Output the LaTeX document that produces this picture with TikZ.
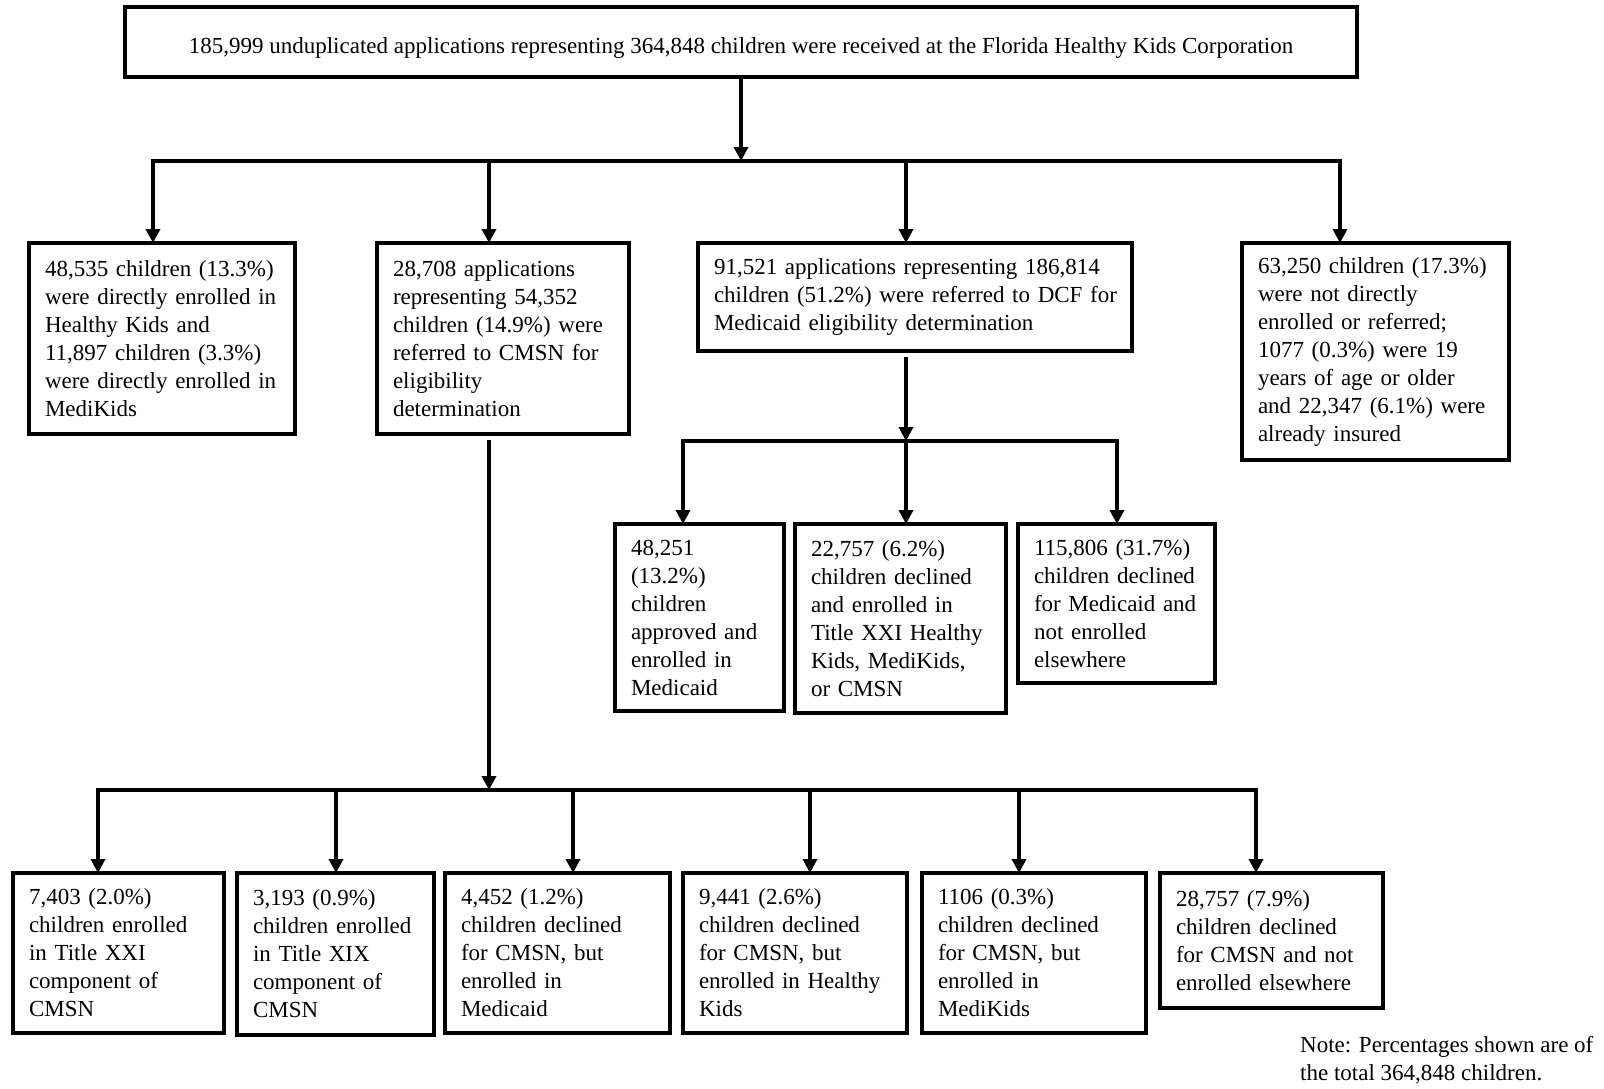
\documentclass[tikz,border=0pt]{standalone}
\usepackage{fontspec}
\setmainfont{Liberation Serif}
\usetikzlibrary{arrows.meta}
\begin{document}
\begin{tikzpicture}[x=1pt,y=-1pt,
  boxstyle/.style={draw, line width=4.5pt, inner xsep=16pt, inner ysep=0pt, outer sep=0pt,
    anchor=north west, align=left, font=\fontsize{23}{28}\selectfont},
  conn/.style={line width=4pt, line join=miter},
  arr/.style={conn, -{Triangle[length=14pt,width=14pt]}},
  notestyle/.style={font=\fontsize{23}{28}\selectfont, align=left, anchor=north west, inner sep=0pt}
]
\useasboundingbox (0,0) rectangle (1604,1088);
\fill[white] (0,0) rectangle (1604,1088);

% top
\node[boxstyle, align=center, inner xsep=0pt, text height=28pt, text depth=5pt,
  minimum width=1232pt, minimum height=70pt] (top) at (125,7)
  {185,999 unduplicated applications representing 364,848 children were received at the Florida Healthy Kids Corporation};

% row 2
\node[boxstyle, text width=234pt, minimum height=191pt] (b1) at (29,243)
  {48,535 children (13.3\%)\\were directly enrolled in\\Healthy Kids and\\11,897 children (3.3\%)\\were directly enrolled in\\MediKids};
\node[boxstyle, text width=220pt, minimum height=191pt] (b2) at (377,243)
  {28,708 applications\\representing 54,352\\children (14.9\%) were\\referred to CMSN for\\eligibility\\determination};
\node[boxstyle, text width=402pt, minimum height=108pt] (b3) at (698,243)
  {\mbox{91,521 applications representing 186,814}\\\mbox{children (51.2\%) were referred to DCF for}\\\mbox{Medicaid eligibility determination}};
\node[boxstyle, text width=235pt, minimum height=217pt] (b4) at (1242,243)
  {63,250 children (17.3\%)\\were not directly\\enrolled or referred;\\1077 (0.3\%) were 19\\years of age or older\\and 22,347 (6.1\%) were\\already insured};

% row 3
\node[boxstyle, text width=137pt, minimum height=187pt] (c1) at (615,524)
  {48,251\\(13.2\%)\\children\\approved and\\enrolled in\\Medicaid};
\node[boxstyle, text width=179pt, minimum height=189pt] (c2) at (795,524)
  {22,757 (6.2\%)\\children declined\\and enrolled in\\Title XXI Healthy\\Kids, MediKids,\\or CMSN};
\node[boxstyle, text width=165pt, minimum height=159pt] (c3) at (1018,524)
  {115,806 (31.7\%)\\children declined\\for Medicaid and\\not enrolled\\elsewhere};

% row 4
\node[boxstyle, text width=179pt, minimum height=160pt] (d1) at (13,873)
  {7,403 (2.0\%)\\children enrolled\\in Title XXI\\component of\\CMSN};
\node[boxstyle, text width=165pt, minimum height=162pt] (d2) at (237,873)
  {3,193 (0.9\%)\\children enrolled\\in Title XIX\\component of\\CMSN};
\node[boxstyle, text width=193pt, minimum height=160pt] (d3) at (445,873)
  {4,452 (1.2\%)\\children declined\\for CMSN, but\\enrolled in\\Medicaid};
\node[boxstyle, text width=192pt, minimum height=160pt] (d4) at (683,873)
  {9,441 (2.6\%)\\children declined\\for CMSN, but\\enrolled in Healthy\\Kids};
\node[boxstyle, text width=192pt, minimum height=160pt] (d5) at (922,873)
  {1106 (0.3\%)\\children declined\\for CMSN, but\\enrolled in\\MediKids};
\node[boxstyle, text width=191pt, minimum height=135pt] (d6) at (1160,873)
  {28,757 (7.9\%)\\children declined\\for CMSN and not\\enrolled elsewhere};

\node[notestyle] (note) at (1300,1036) {Note: Percentages shown are of\\the total 364,848 children.};

% junctions and branch points
\coordinate (j1) at (741,161);
\coordinate (p1) at (153,161);
\coordinate (p2) at (489,161);
\coordinate (p3) at (906,161);
\coordinate (p4) at (1340,161);

\coordinate (j2) at (906,441);
\coordinate (q1) at (683,441);
\coordinate (q2) at (906,441);
\coordinate (q3) at (1117,441);

\coordinate (j3) at (489,790);
\coordinate (r1) at (98,790);
\coordinate (r2) at (336,790);
\coordinate (r3) at (573,790);
\coordinate (r4) at (810,790);
\coordinate (r5) at (1019,790);
\coordinate (r6) at (1256,790);

% connectors
\draw[arr] (top.south -| j1) -- (j1);
\draw[arr] (j1) -| (p1 |- b1.north);
\draw[arr] (j1) -| (p2 |- b2.north);
\draw[arr] (j1) -| (p3 |- b3.north);
\draw[arr] (j1) -| (p4 |- b4.north);

\draw[arr, shorten <=6pt] (b3.south -| j2) -- (j2);
\draw[arr] (j2) -| (q1 |- c1.north);
\draw[arr] (j2) -| (q2 |- c2.north);
\draw[arr] (j2) -| (q3 |- c3.north);

\draw[arr, shorten <=6pt] (b2.south -| j3) -- (j3);
\draw[arr] (j3) -| (r1 |- d1.north);
\draw[arr] (j3) -| (r2 |- d2.north);
\draw[arr] (j3) -| (r3 |- d3.north);
\draw[arr] (j3) -| (r4 |- d4.north);
\draw[arr] (j3) -| (r5 |- d5.north);
\draw[arr] (j3) -| (r6 |- d6.north);
\end{tikzpicture}
\end{document}
